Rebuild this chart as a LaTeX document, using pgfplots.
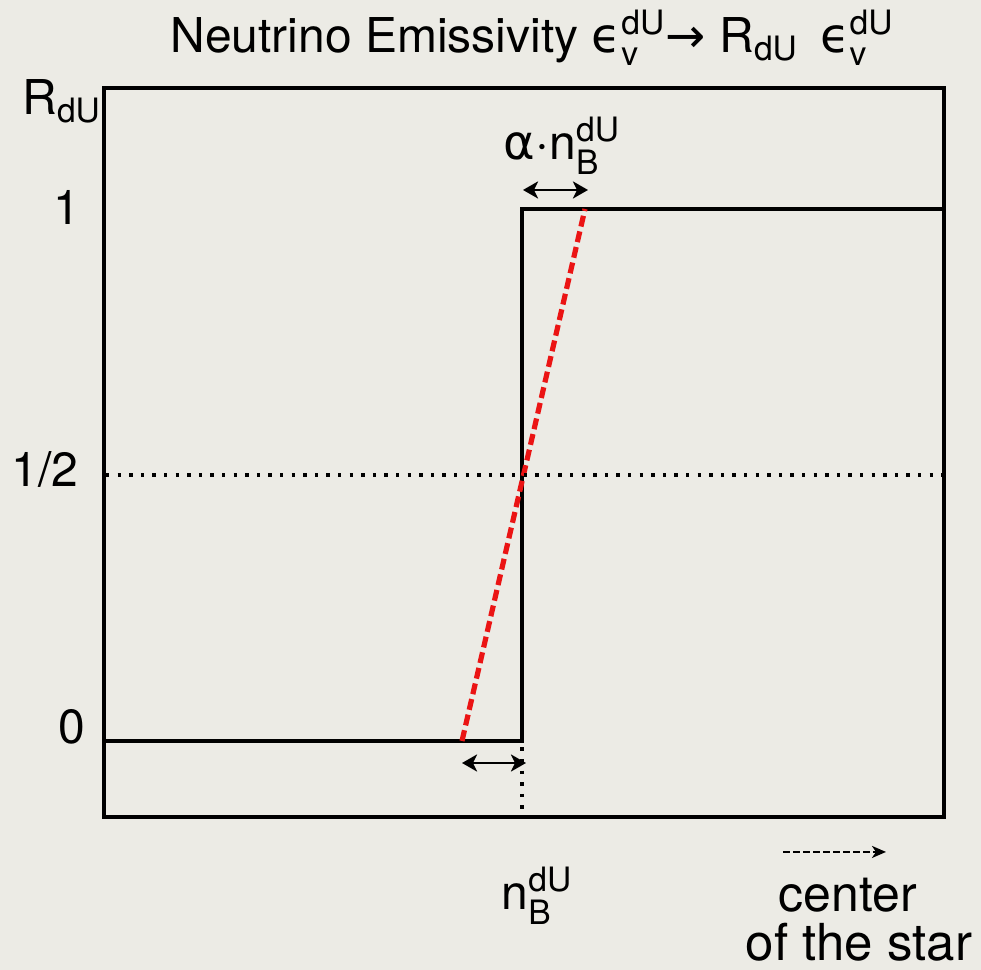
\documentclass[border=0pt]{standalone}
\usepackage{fontspec}
\setmainfont{TeX Gyre Heros}
\newfontfamily\dejavu{DejaVu Sans}
\usepackage{amsmath}
\usepackage{pgfplots}
\pgfplotsset{compat=1.18}
\usetikzlibrary{arrows.meta}
\definecolor{bg}{RGB}{236,235,229}
\newcommand{\eps}{\text{\dejavu ϵ}}
\newcommand{\SU}[2]{^{\text{#1}}_{\text{#2}}}
\begin{document}
\begin{tikzpicture}[x=1pt,y=1pt]
\fill[bg] (0,0) rectangle (490.5,485);
\begin{axis}[at={(52pt,76.5pt)}, anchor=south west, scale only axis,
  width=420pt, height=364.5pt,
  xmin=104, xmax=944, ymin=-0.1429, ymax=1.2274,
  axis line style={line width=2pt}, ticks=none, clip=false,
  font=\fontsize{24}{28}\selectfont]
% step function R_dU
\addplot[black, line width=1.6pt] coordinates {(104,0) (522,0) (522,1) (944,1)};
% smoothed transition
\addplot[color={rgb,255:red,235;green,20;blue,20}, line width=2.6pt, dash pattern=on 5.5pt off 2.5pt] coordinates {(462,0) (585,1)};
% dotted guides
\addplot[black, line width=1.7pt, dash pattern=on 1.7pt off 4.1pt] coordinates {(106,0.5) (944,0.5)};
\addplot[black, line width=1.7pt, dash pattern=on 1.7pt off 4.1pt] coordinates {(522,-0.012) (522,-0.1429)};
% width arrows
\addplot[black, line width=1.4pt, {Stealth[length=7.5pt,width=8.5pt,inset=2pt]}-{Stealth[length=7.5pt,width=8.5pt,inset=2pt]}] coordinates {(523,1.0357) (588,1.0357)};
\addplot[black, line width=1.4pt, {Stealth[length=7.5pt,width=8.5pt,inset=2pt]}-{Stealth[length=7.5pt,width=8.5pt,inset=2pt]}] coordinates {(462,-0.0414) (526,-0.0414)};
% center-of-star arrow
\addplot[black, line width=1.2pt, dash pattern=on 3.5pt off 1.5pt, -{Stealth[length=7pt,width=6pt,inset=2pt]}] coordinates {(783,-0.2086) (886,-0.2086)};
% texts
\node[anchor=base, inner sep=0pt] at (axis cs:532,1.2932) {Neutrino Emissivity $\eps\SU{dU}{v}\text{\dejavu →}\;\text{R}_{\text{dU}}\;\,\eps\SU{dU}{v}$};
\node[anchor=base west, inner sep=0pt] at (axis cs:22,1.1767) {$\text{R}_{\text{dU}}$};
\node[anchor=base east, inner sep=0pt] at (axis cs:81,0.9699) {1};
\node[anchor=base east, inner sep=0pt] at (axis cs:79,0.4774) {1/2};
\node[anchor=base east, inner sep=0pt] at (axis cs:86,-0.0056) {0};
\node[anchor=base, inner sep=0pt] at (axis cs:562,1.0921) {$\text{\dejavu α}{\cdot}\text{n}\SU{dU}{B}$};
\node[anchor=base, inner sep=0pt] at (axis cs:537,-0.3177) {$\text{n}\SU{dU}{B}$};
\node[anchor=base, inner sep=0pt, font=\fontsize{25}{28}\selectfont] at (axis cs:848,-0.3214) {center};
\node[anchor=base, inner sep=0pt, text depth=0pt, font=\fontsize{25.5}{28}\selectfont] at (axis cs:859,-0.4135) {of the star};
\end{axis}
\end{tikzpicture}
\end{document}
